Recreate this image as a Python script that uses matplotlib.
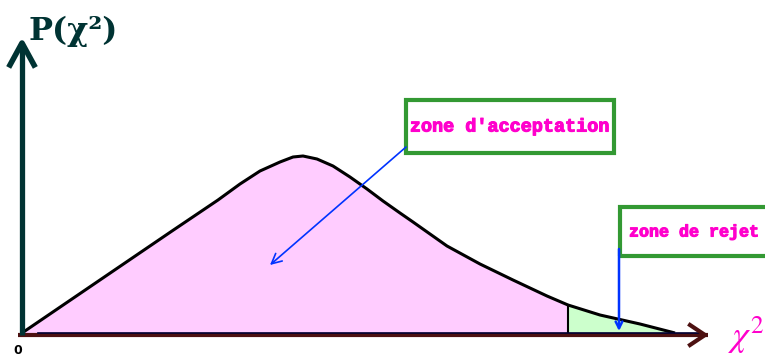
import matplotlib.pyplot as plt
import matplotlib.patheffects as pe
from matplotlib.patches import Rectangle

# density curve (chi2, P)
chi2 = [0, 50, 100, 150, 196, 218, 238, 258, 271, 281, 295, 311, 328,
        345, 361, 378, 391, 425, 458, 491, 525, 546, 578, 618, 653]
p = [0, 34, 68, 102, 133, 149, 162, 171, 176, 177, 174, 167, 156,
     144, 132, 120, 111, 87, 69, 53, 37, 28, 18, 9, 0]
critical = 546  # start of rejection zone

label_accept = "zone d'acceptation"
label_reject = "zone de rejet"

pink = '#ffccff'
green = '#ccffcc'
magenta = '#ff00cc'
blue = '#0033ff'
boxgreen = '#339933'
teal = '#003333'
brown = '#4d1111'

fig = plt.figure(figsize=(7.65, 3.59), dpi=100)
ax = fig.add_axes([0, 0, 1, 1])
ax.set_xlim(-22, 743)
ax.set_ylim(-26, 333)
ax.axis('off')

# acceptance / rejection areas
acc_x = [x for x in chi2 if x <= critical]
acc_y = p[:len(acc_x)]
rej_x = [x for x in chi2 if x >= critical]
rej_y = p[len(chi2) - len(rej_x):]
ax.fill_between(acc_x, acc_y, 0, color=pink, lw=0)
ax.fill_between(rej_x, rej_y, 0, color=green, lw=0)
ax.plot(chi2, p, color='black', lw=2.2, solid_capstyle='butt')
ax.plot([critical, critical], [0, p[chi2.index(critical)]], color='black', lw=1.5)

# axes
ax.plot([-4, 686], [-2, -2], color=brown, lw=3, solid_capstyle='butt')
ax.plot([16, 678], [0, 0], color='#000033', lw=1.2)
ax.plot([668, 683, 668], [8, -2, -12], color=brown, lw=3)
ax.plot([0, 0], [-2, 288], color=teal, lw=3.8, solid_capstyle='butt')
ax.plot([-12, 0, 12], [268, 290, 268], color=teal, lw=4)

ax.text(51, 302, 'P(χ²)', color=teal, fontsize=23, family='DejaVu Serif',
        fontweight='bold', ha='center', va='center')
ax.text(706, -14, r'$\chi^2$', color=magenta, fontsize=26,
        ha='left', va='baseline', math_fontfamily='stix')
ax.text(-4, -18, '0', color='black', fontsize=9, fontweight='bold',
        ha='center', va='center')

bold = [pe.withStroke(linewidth=0.8, foreground=magenta)]

# acceptance label
ax.add_patch(Rectangle((384, 180), 208, 53, fill=False, ec=boxgreen, lw=3))
ax.text(488, 206, label_accept, color=magenta, fontsize=13.3,
        family='Liberation Mono', fontweight='bold', ha='center', va='center',
        path_effects=bold)
ax.annotate('', xy=(248, 68), xytext=(384, 186),
            arrowprops=dict(arrowstyle='->', color=blue, lw=1.2,
                            mutation_scale=18, shrinkA=0, shrinkB=0))

# rejection label
ax.add_patch(Rectangle((598, 77), 220, 49, fill=False, ec=boxgreen, lw=3,
                       clip_on=False))
ax.text(607, 101, label_reject, color=magenta, fontsize=12,
        family='Liberation Mono', fontweight='bold', ha='left', va='center',
        path_effects=bold)
ax.annotate('', xy=(597, 2), xytext=(597, 84),
            arrowprops=dict(arrowstyle='->', color=blue, lw=1.8,
                            mutation_scale=12, shrinkA=0, shrinkB=0))

fig.savefig('out.png', dpi=100)
